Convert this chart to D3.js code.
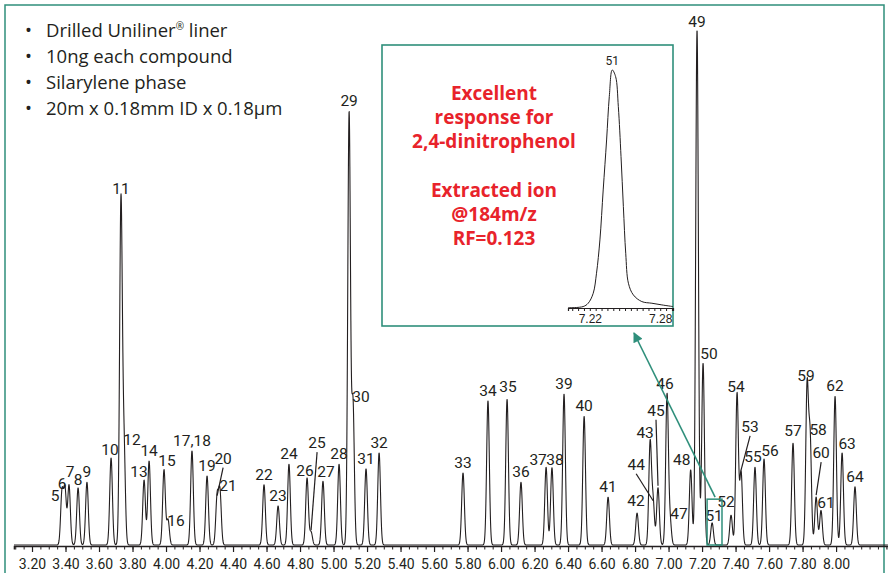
<!DOCTYPE html>
<html>
<head>
<meta charset="utf-8">
<script src="https://cdn.jsdelivr.net/npm/d3@7"></script>
<style>
body { margin: 0; background: #fff; }
svg { display: block; }
.peak-label { font-family: Roboto, "Liberation Sans", sans-serif; font-size: 15.5px; fill: #231f20; }
.tick-label { font-family: Roboto, "Liberation Sans", sans-serif; font-size: 14px; fill: #231f20; }
.note { font-family: "Open Sans", sans-serif; font-size: 18.5px; fill: #231f20; }
.callout { font-family: "Open Sans", sans-serif; font-weight: 700; font-size: 19px; fill: #e8232b; }
</style>
</head>
<body>
<svg id="chart" width="888" height="573"></svg>
<script>
/*global d3*/

// peak table (retention time in min, height in % of peak 49)
var peakNames = ["5", "6", "7", "8", "9", "10", "11", "12", "13", "14", "15", "16", "17,18", "19", "20", "21",
    "22", "23", "24", "25", "26", "27", "28", "29", "30", "31", "32",
    "33", "34", "35", "36", "37", "38", "39", "40", "41", "42", "43", "44", "45", "46", "47", "48",
    "49", "50", "51", "52", "53", "54", "55", "56", "57", "58", "59", "60", "61", "62", "63", "64"];
var peakTimes = [3.379, 3.397, 3.421, 3.475, 3.528, 3.672, 3.731, 3.749, 3.869, 3.899, 3.988, 4.012, 4.155, 4.245, 4.305, 4.322,
    4.585, 4.669, 4.734, 4.866, 4.842, 4.937, 5.033, 5.093, 5.116, 5.194, 5.272,
    5.773, 5.922, 6.036, 6.119, 6.269, 6.304, 6.376, 6.496, 6.639, 6.812, 6.890, 6.908, 6.937, 6.991, 7.009, 7.132,
    7.170, 7.206, 7.260, 7.373, 7.433, 7.409, 7.516, 7.570, 7.743, 7.845, 7.827, 7.881, 7.910, 7.994, 8.036, 8.113];
var peakHeights = [10.2, 10.6, 11.6, 11.1, 12.2, 16.9, 66.6, 19.0, 12.6, 16.3, 14.6, 4.9, 18.3, 13.4, 9.2, 10.2,
    11.7, 7.6, 15.7, 2.5, 13.0, 12.4, 15.7, 83.8, 27.6, 14.8, 17.9,
    14.0, 28.0, 28.3, 12.2, 15.1, 15.0, 29.3, 25.0, 9.3, 6.2, 19.8, 8.2, 11.1, 29.1, 4.6, 14.6,
    100, 35.3, 4.3, 5.8, 14.2, 29.5, 15.1, 16.7, 19.8, 20.5, 30.6, 9.3, 6.7, 28.9, 17.9, 11.3];

var axisTicks = [3.2, 3.4, 3.6, 3.8, 4.0, 4.2, 4.4, 4.6, 4.8, 5.0, 5.2, 5.4, 5.6, 5.8, 6.0, 6.2, 6.4, 6.6, 6.8, 7.0, 7.2, 7.4, 7.6, 7.8, 8.0];

var notes = ["Drilled Uniliner", "10ng each compound", "Silarylene phase", "20m x 0.18mm ID x 0.18\u00b5m"];
var callout = ["Excellent", "response for", "2,4-dinitrophenol", "", "Extracted ion", "@184m/z", "RF=0.123"];

// extracted ion trace of peak 51 (inset)
var insetTimes = [7.2014, 7.2143, 7.2186, 7.2229, 7.2257, 7.2286, 7.2314, 7.2343, 7.2366, 7.2391, 7.2420,
    7.2443, 7.2466, 7.2486, 7.2506, 7.2529, 7.2571, 7.2643, 7.2729, 7.2814, 7.2909];
var insetHeights = [0.1, 0.6, 2.0, 6.2, 14.6, 28.6, 49.6, 70.6, 88.8, 100, 97.2,
    84.6, 63.6, 42.6, 23.0, 10.4, 5.5, 2.7, 2.0, 1.3, 0.6];
var insetTicks = [7.22, 7.28];
var insetPeak = "51";

var teal = "#2f8f7b";
var ink = "#231f20";

// label nudges [dx, dy] from the default spot above the apex
var labelNudge = {
    "5": [-7, 14], "6": [-3, 4], "7": [1, -3], "8": [0, 2], "10": [-1, 2], "11": [0, -3], "12": [8, 3], "13": [-5, 2],
    "15": [3, 1], "16": [8, 11], "20": [6, -29], "21": [8, 4], "25": [6, -79], "26": [-2, 3], "27": [3, 1],
    "29": [0, -2], "30": [8, 4], "35": [1, -2], "37": [-8, 3], "38": [3, 2], "42": [-1, -2], "43": [-5, 0],
    "44": [-17, -28], "45": [-2, -67], "46": [-2, -1], "47": [9, 3], "48": [-9, 0], "49": [0, 2],
    "50": [6, 1], "51": [2, 3], "52": [-5, -3], "53": [9, -35], "54": [-1, 4], "55": [-2, 0], "56": [6, 2],
    "57": [0, -2], "58": [8, 1], "59": [-1, -1], "60": [5, -34], "61": [5, 3], "63": [5, 1]
};
var leaders = ["20", "25", "44", "45", "53", "60"];

var svg = d3.select("#chart");

var x = d3.scaleLinear().domain([3.0925, 8.31]).range([14, 888]);
var y = d3.scaleLinear().domain([0, 100]).range([545, 30]);

// outer frame
svg.append("path")
    .attr("d", "M5,573V5H884V573")
    .attr("fill", "none")
    .attr("stroke", teal)
    .attr("stroke-width", 1.5);

// chromatogram trace: sum of narrow peaks
var sigma = 0.008;
var trace = d3.range(x.domain()[0], x.domain()[1], 0.001).map(function (t) {
    var v = 0;
    peakTimes.forEach(function (pt, i) {
        var z = (t - pt) / sigma;
        if (Math.abs(z) < 6) v += peakHeights[i] * Math.exp(-0.5 * z * z);
    });
    return [t, v];
});

var line = d3.line()
    .x(function (d) { return x(d[0]); })
    .y(function (d) { return y(d[1]); });

svg.append("path")
    .datum(trace)
    .attr("d", line)
    .attr("fill", "none")
    .attr("stroke", ink)
    .attr("stroke-width", 1.1)
    .attr("stroke-linejoin", "round");

// x axis
var axisY = 546;
var minor = d3.range(3.10, 8.31, 0.05);
svg.append("g")
    .attr("transform", "translate(0," + axisY + ")")
    .call(d3.axisBottom(x).tickValues(minor).tickSize(3.5).tickFormat(""))
    .call(function (g) {
        g.select(".domain").attr("stroke", ink).attr("stroke-width", 1.6);
        g.selectAll(".tick line").attr("stroke", ink).attr("stroke-width", 1);
    });
svg.append("g")
    .attr("transform", "translate(0," + axisY + ")")
    .call(d3.axisBottom(x).tickValues(axisTicks).tickSize(6).tickPadding(7).tickFormat(d3.format(".2f")))
    .call(function (g) {
        g.select(".domain").remove();
        g.selectAll(".tick line").attr("stroke", ink).attr("stroke-width", 1.2);
        g.selectAll(".tick text").attr("class", "tick-label").attr("font-family", null).attr("font-size", null);
    });

// peak labels
var labelData = peakNames.map(function (name, i) {
    var n = labelNudge[name] || [0, 0];
    var px = x(peakTimes[i]), py = y(peakHeights[i]);
    return {name: name, px: px, py: py, lx: px + n[0], ly: py - 5 + n[1]};
});

svg.selectAll(".leader")
    .data(labelData.filter(function (d) { return leaders.indexOf(d.name) >= 0; }))
    .enter()
    .append("line")
    .attr("class", "leader")
    .attr("x1", function (d) { return d.lx; })
    .attr("y1", function (d) { return d.ly + 4; })
    .attr("x2", function (d) { return d.px; })
    .attr("y2", function (d) { return d.py - 2; })
    .attr("stroke", ink)
    .attr("stroke-width", 1.2);

svg.selectAll(".peak-label")
    .data(labelData)
    .enter()
    .append("text")
    .attr("class", "peak-label")
    .attr("x", function (d) { return d.lx; })
    .attr("y", function (d) { return d.ly; })
    .attr("text-anchor", "middle")
    .text(function (d) { return d.name; });

// bullet notes
var notesG = svg.append("g");
notes.forEach(function (s, i) {
    var yy = 37 + i * 26;
    notesG.append("text").attr("class", "note").attr("x", 25).attr("y", yy).text("\u2022");
    var t = notesG.append("text").attr("class", "note").attr("x", 46).attr("y", yy).text(s);
    if (i === 0) {
        t.append("tspan").attr("font-size", "10px").attr("dy", -7).text("\u00ae");
        t.append("tspan").attr("dy", 7).text(" liner");
    }
});

// zoom box around peak 51 and arrow to the inset
var p51 = peakNames.indexOf(insetPeak);
svg.append("rect")
    .attr("x", x(7.23)).attr("y", y(8.9))
    .attr("width", x(7.319) - x(7.23)).attr("height", y(0) - y(8.9))
    .attr("fill", "none").attr("stroke", teal).attr("stroke-width", 1.5);

svg.append("defs").append("marker")
    .attr("id", "head")
    .attr("viewBox", "0 0 10 10")
    .attr("refX", 9).attr("refY", 5)
    .attr("markerWidth", 14).attr("markerHeight", 10)
    .attr("markerUnits", "userSpaceOnUse")
    .attr("orient", "auto")
    .append("path").attr("d", "M0,0L10,5L0,10Z").attr("fill", teal);

svg.append("line")
    .attr("x1", x(peakTimes[p51]) + 3).attr("y1", y(8.9) - 2)
    .attr("x2", 634).attr("y2", 333)
    .attr("stroke", teal).attr("stroke-width", 1.6)
    .attr("marker-end", "url(#head)");

// inset
var inset = {left: 382, top: 45, right: 673, bottom: 326};
svg.append("rect")
    .attr("x", inset.left).attr("y", inset.top)
    .attr("width", inset.right - inset.left).attr("height", inset.bottom - inset.top)
    .attr("fill", "#fff").attr("stroke", teal).attr("stroke-width", 1.6);

var callG = svg.append("g");
callout.forEach(function (s, i) {
    callG.append("text").attr("class", "callout")
        .attr("x", 494).attr("y", 100 + i * 24.2)
        .attr("text-anchor", "middle").text(s);
});

var ix = d3.scaleLinear().domain([7.2014, 7.2909]).range([568, 673]);
var iy = d3.scaleLinear().domain([0, 100]).range([308, 70]);

svg.append("path")
    .datum(insetTimes.map(function (t, i) { return [t, insetHeights[i]]; }))
    .attr("d", d3.line().x(function (d) { return ix(d[0]); }).y(function (d) { return iy(d[1]); }).curve(d3.curveCatmullRom))
    .attr("fill", "none").attr("stroke", ink).attr("stroke-width", 1);

svg.append("g")
    .attr("transform", "translate(0,308)")
    .call(d3.axisBottom(ix).tickValues(d3.range(7.205, 7.291, 0.005)).tickSize(3).tickFormat(""))
    .call(function (g) {
        g.select(".domain").attr("stroke", ink).attr("stroke-width", 1.2);
        g.selectAll(".tick line").attr("stroke", ink);
    });
svg.append("g")
    .attr("transform", "translate(0,308)")
    .call(d3.axisBottom(ix).tickValues(insetTicks).tickSize(0).tickPadding(6).tickFormat(d3.format(".2f")))
    .call(function (g) {
        g.select(".domain").remove();
        g.selectAll(".tick text").attr("font-family", "Liberation Sans, sans-serif").attr("font-size", "12px").attr("fill", ink);
    });

svg.append("text")
    .attr("class", "peak-label")
    .style("font-size", "12px")
    .attr("x", ix(insetTimes[insetHeights.indexOf(100)]))
    .attr("y", iy(100) - 5)
    .attr("text-anchor", "middle")
    .text(insetPeak);
</script>
</body>
</html>
